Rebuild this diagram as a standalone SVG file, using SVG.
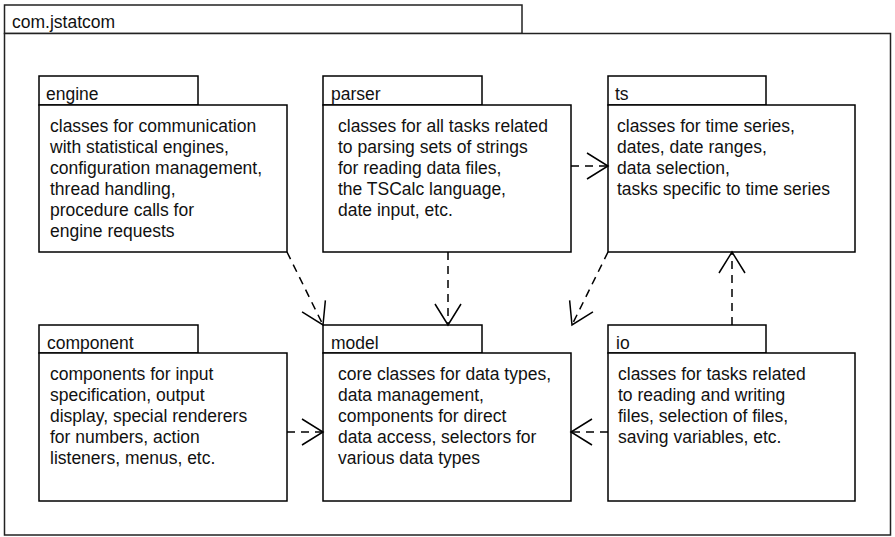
<svg xmlns="http://www.w3.org/2000/svg" width="895" height="537" viewBox="0 0 895 537">
<style>
.box{fill:#fff;stroke:#000;stroke-width:1.5}
.outer{fill:#fff;stroke:#222;stroke-width:1.5}
text{font-family:"Liberation Sans",Arial,sans-serif;font-size:17.5px;fill:#111}
.dep{fill:none;stroke:#000;stroke-width:1.5;stroke-dasharray:8,6}
</style>
<defs>
<marker id="open" markerUnits="userSpaceOnUse" markerWidth="30" markerHeight="30" viewBox="-25 -15 30 30" refX="0" refY="0" orient="auto">
<path d="M-21,-13 L0,0 L-21,13" fill="none" stroke="#000" stroke-width="1.5" stroke-dasharray="none"/>
</marker>
</defs>
<rect width="895" height="537" fill="#fff"/>
<g id="com.jstatcom">
<rect class="outer" x="4.5" y="5" width="517.5" height="28.5"/>
<rect class="outer" x="4.5" y="33.5" width="886" height="501.5"/>
<text x="12" y="28">com.jstatcom</text>
</g>
<g id="engine">
<rect class="box" x="39" y="76" width="159" height="29"/>
<rect class="box" x="39" y="105" width="248" height="147"/>
<text x="46" y="100">engine</text>
<text x="50" y="132">classes for communication</text>
<text x="50" y="153">with statistical engines,</text>
<text x="50" y="174">configuration management,</text>
<text x="50" y="195">thread handling,</text>
<text x="50" y="216">procedure calls for</text>
<text x="50" y="237">engine requests</text>
</g>
<g id="parser">
<rect class="box" x="323" y="76" width="159" height="29"/>
<rect class="box" x="323" y="105" width="248" height="147"/>
<text x="331" y="100">parser</text>
<text x="338" y="132">classes for all tasks related</text>
<text x="338" y="153">to parsing sets of strings</text>
<text x="338" y="174">for reading data files,</text>
<text x="338" y="195">the TSCalc language,</text>
<text x="338" y="216">date input, etc.</text>
</g>
<g id="ts">
<rect class="box" x="608" y="76" width="158" height="29"/>
<rect class="box" x="608" y="105" width="247" height="147"/>
<text x="615" y="100">ts</text>
<text x="617" y="132">classes for time series,</text>
<text x="617" y="153">dates, date ranges,</text>
<text x="617" y="174">data selection,</text>
<text x="617" y="195">tasks specific to time series</text>
</g>
<g id="component">
<rect class="box" x="39" y="325" width="159" height="28"/>
<rect class="box" x="39" y="353" width="248" height="148"/>
<text x="47" y="349">component</text>
<text x="50" y="380">components for input</text>
<text x="50" y="401">specification, output</text>
<text x="50" y="422">display, special renderers</text>
<text x="50" y="443">for numbers, action</text>
<text x="50" y="464">listeners, menus, etc.</text>
</g>
<g id="model">
<rect class="box" x="323" y="325" width="159" height="28"/>
<rect class="box" x="323" y="353" width="248" height="148"/>
<text x="331" y="349">model</text>
<text x="338" y="380">core classes for data types,</text>
<text x="338" y="401">data management,</text>
<text x="338" y="422">components for direct</text>
<text x="338" y="443">data access, selectors for</text>
<text x="338" y="464">various data types</text>
</g>
<g id="io">
<rect class="box" x="608" y="325" width="158" height="28"/>
<rect class="box" x="608" y="353" width="247" height="148"/>
<text x="616" y="349">io</text>
<text x="618" y="380">classes for tasks related</text>
<text x="618" y="401">to reading and writing</text>
<text x="618" y="422">files, selection of files,</text>
<text x="618" y="443">saving variables, etc.</text>
</g>
<g id="connectors">
<line class="dep" x1="287" y1="252" x2="323" y2="325" marker-end="url(#open)"/>
<line class="dep" x1="448" y1="252" x2="448" y2="325" marker-end="url(#open)"/>
<line class="dep" x1="571" y1="166" x2="608" y2="166" marker-end="url(#open)"/>
<line class="dep" x1="608" y1="252" x2="572" y2="325" marker-end="url(#open)"/>
<line class="dep" x1="732" y1="325" x2="732" y2="252" marker-end="url(#open)"/>
<line class="dep" x1="287" y1="432" x2="323" y2="432" marker-end="url(#open)"/>
<line class="dep" x1="608" y1="432" x2="571" y2="432" marker-end="url(#open)"/>
</g>
</svg>
